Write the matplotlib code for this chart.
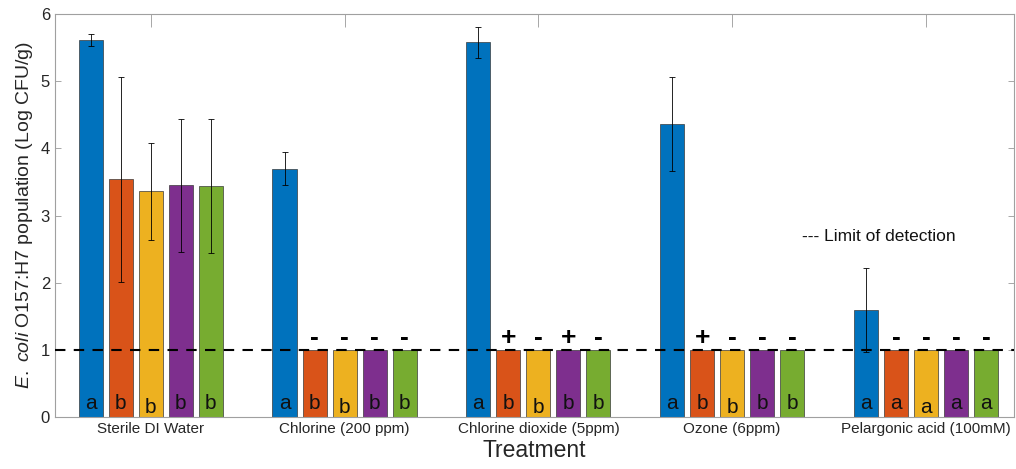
import matplotlib.pyplot as plt
import numpy as np

plt.rcParams['font.family'] = ['Liberation Sans', 'DejaVu Sans']
plt.rcParams['mathtext.fontset'] = 'custom'
plt.rcParams['mathtext.it'] = 'Liberation Sans:italic'
plt.rcParams['mathtext.rm'] = 'Liberation Sans'

# data
groups = ['Sterile DI Water', 'Chlorine (200 ppm)', 'Chlorine dioxide (5ppm)',
          'Ozone (6ppm)', 'Pelargonic acid (100mM)']
vals = [
    [5.62, 3.54, 3.36, 3.45, 3.44],
    [3.70, 1.0, 1.0, 1.0, 1.0],
    [5.58, 1.0, 1.0, 1.0, 1.0],
    [4.37, 1.0, 1.0, 1.0, 1.0],
    [1.59, 1.0, 1.0, 1.0, 1.0],
]
errs = [
    [0.09, 1.53, 0.72, 0.99, 1.0],
    [0.24, 0, 0, 0, 0],
    [0.23, 0, 0, 0, 0],
    [0.70, 0, 0, 0, 0],
    [0.63, 0, 0, 0, 0],
]
letters = [
    ['a', 'b', 'b', 'b', 'b'],
    ['a', 'b', 'b', 'b', 'b'],
    ['a', 'b', 'b', 'b', 'b'],
    ['a', 'b', 'b', 'b', 'b'],
    ['a', 'a', 'a', 'a', 'a'],
]
signs = [
    ['', '', '', '', ''],
    ['', '-', '-', '-', '-'],
    ['', '+', '-', '+', '-'],
    ['', '+', '-', '-', '-'],
    ['', '-', '-', '-', '-'],
]
lod = 1.0
colors = ['#0072BD', '#D95319', '#EDB120', '#7E2F8E', '#77AC30']

fig = plt.figure(figsize=(10.16, 4.69), dpi=100)
ax = fig.add_axes([0.054, 0.111, 0.944, 0.859])

x = np.arange(1, len(groups) + 1)
vals = np.array(vals)
errs = np.array(errs)
w = 0.124
step = 0.155
for j in range(5):
    xs = x + (j - 2) * step
    ax.bar(xs, vals[:, j], width=w, color=colors[j], edgecolor='#3a3a3a', linewidth=0.5, zorder=2)
    for i in range(len(groups)):
        if errs[i, j] > 0:
            ax.errorbar(xs[i], vals[i, j], yerr=errs[i, j], color='black', lw=0.6,
                        capsize=2, capthick=0.6, zorder=3)
        dy = 0.14 if j == 2 else 0.2
        ax.text(xs[i], dy, letters[i][j], ha='center', va='center', fontsize=15,
                color='#111111', zorder=4)
        if signs[i][j]:
            ax.text(xs[i], 1.18, signs[i][j], ha='center', va='center', fontsize=19,
                    fontweight='bold', color='black', zorder=4)

ax.axhline(lod, color='black', ls=(0, (5, 4)), lw=1.5, zorder=3)
ax.text(4.36, 2.68, '--- Limit of detection', fontsize=12.5, va='center', color='#111111')

ax.set_xlim(0.505, 5.454)
ax.set_ylim(0, 6)
ax.set_xticks(x)
ax.set_xticklabels(groups, fontsize=11, color='#262626')
ax.set_yticks(range(7))
ax.tick_params(axis='y', labelsize=12, colors='#262626', direction='in', right=True,
               length=4, width=0.6, color='#999999')
ax.tick_params(axis='x', direction='in', top=True, bottom=False, length=9, width=0.6,
               color='#999999', pad=4)
for s in ax.spines.values():
    s.set_color('#a0a0a0')
    s.set_linewidth(0.8)

ax.set_xlabel('Treatment', fontsize=16.5, color='#262626', labelpad=1.5)
ax.set_ylabel(r'$\it{E.\ coli}$ O157:H7 population (Log CFU/g)', fontsize=14, color='#262626',
              labelpad=4)

fig.savefig('out.png', dpi=100)
